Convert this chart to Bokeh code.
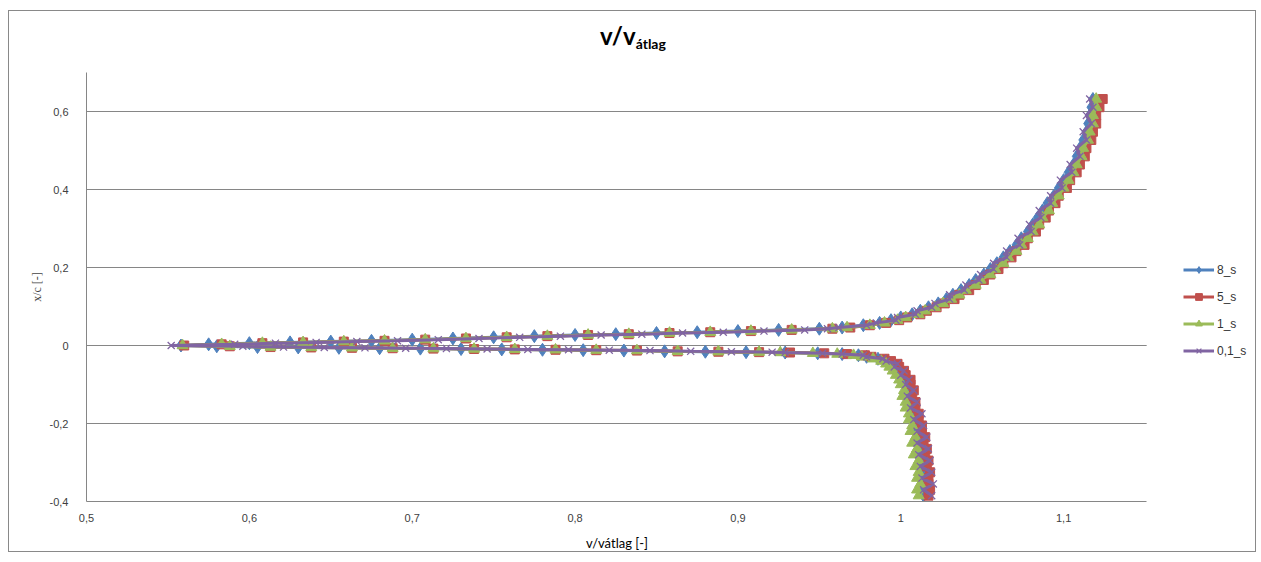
from bokeh.plotting import figure
from bokeh.layouts import column
from bokeh.models import Range1d, FixedTicker, Legend, LegendItem, Div
from bokeh.embed import file_html
from bokeh.resources import INLINE

# x/c sampling positions: lower branch (TE -> stagnation), stagnation, upper branch (stagnation -> TE)
x_c = [-0.385, -0.370, -0.355, -0.340, -0.325, -0.310, -0.295, -0.280, -0.265, -0.250,
       -0.235, -0.220, -0.205, -0.190, -0.175, -0.160, -0.145, -0.130, -0.115, -0.100,
       -0.088, -0.076, -0.065, -0.055, -0.047, -0.040, -0.034, -0.029, -0.025, -0.022,
       -0.020, -0.018, -0.017, -0.016, -0.015, -0.013, -0.012, -0.011, -0.010, -0.009,
       -0.008, -0.007, -0.006, -0.005, -0.004, -0.002,
       0.0,
       0.003, 0.006, 0.008, 0.010, 0.012, 0.015, 0.018, 0.021, 0.024, 0.027,
       0.029, 0.032, 0.034, 0.037, 0.040, 0.043,
       0.046, 0.052, 0.058, 0.065, 0.072, 0.080, 0.089, 0.098, 0.108, 0.119,
       0.130, 0.142, 0.155, 0.168, 0.182, 0.196, 0.211, 0.226, 0.242, 0.258,
       0.275, 0.292, 0.310, 0.328, 0.346, 0.365, 0.384, 0.404, 0.424, 0.444,
       0.464, 0.485, 0.506, 0.527, 0.548, 0.569, 0.590, 0.611, 0.632]

v_8s = [1.014, 1.014, 1.014, 1.014, 1.014, 1.013, 1.013, 1.012, 1.012, 1.011,
        1.011, 1.010, 1.009, 1.008, 1.007, 1.006, 1.005, 1.004, 1.004, 1.003,
        1.002, 1.000, 0.998, 0.996, 0.994, 0.991, 0.986, 0.979, 0.974, 0.964,
        0.949, 0.929, 0.905, 0.880, 0.855, 0.830, 0.805, 0.780, 0.755, 0.730,
        0.705, 0.680, 0.655, 0.630, 0.605, 0.580,
        0.558,
        0.575, 0.600, 0.625, 0.650, 0.675, 0.700, 0.725, 0.750, 0.775, 0.800,
        0.825, 0.850, 0.875, 0.900, 0.925, 0.950,
        0.964, 0.977, 0.987, 0.994, 1.000, 1.007, 1.012, 1.017, 1.023, 1.028,
        1.032, 1.037, 1.042, 1.046, 1.051, 1.055, 1.059, 1.063, 1.067, 1.071,
        1.074, 1.078, 1.081, 1.084, 1.087, 1.090, 1.094, 1.097, 1.100, 1.103,
        1.106, 1.108, 1.110, 1.112, 1.114, 1.115, 1.116, 1.117, 1.118]

v_5s = [1.017, 1.018, 1.017, 1.017, 1.018, 1.016, 1.017, 1.015, 1.016, 1.014,
        1.015, 1.013, 1.013, 1.011, 1.011, 1.009, 1.009, 1.007, 1.008, 1.006,
        1.006, 1.003, 1.002, 0.999, 0.998, 0.994, 0.990, 0.982, 0.978, 0.967,
        0.953, 0.932, 0.913, 0.888, 0.863, 0.838, 0.813, 0.788, 0.763, 0.738,
        0.713, 0.688, 0.663, 0.638, 0.613, 0.588,
        0.560,
        0.583, 0.608, 0.633, 0.658, 0.683, 0.708, 0.733, 0.758, 0.783, 0.808,
        0.833, 0.858, 0.883, 0.908, 0.933, 0.958,
        0.969, 0.981, 0.991, 0.999, 1.004, 1.012, 1.016, 1.022, 1.027, 1.033,
        1.036, 1.042, 1.046, 1.051, 1.055, 1.060, 1.063, 1.068, 1.071, 1.076,
        1.078, 1.083, 1.085, 1.089, 1.091, 1.095, 1.097, 1.102, 1.104, 1.108,
        1.110, 1.113, 1.114, 1.117, 1.118, 1.120, 1.120, 1.122, 1.124]

v_1s = [1.011, 1.010, 1.012, 1.010, 1.011, 1.009, 1.011, 1.008, 1.010, 1.007,
        1.009, 1.006, 1.007, 1.005, 1.005, 1.003, 1.003, 1.001, 1.002, 1.000,
        0.999, 0.997, 0.995, 0.993, 0.991, 0.988, 0.983, 0.976, 0.971, 0.961,
        0.946, 0.926, 0.913, 0.888, 0.863, 0.838, 0.813, 0.788, 0.763, 0.738,
        0.713, 0.688, 0.663, 0.638, 0.613, 0.588,
        0.559,
        0.583, 0.608, 0.633, 0.658, 0.683, 0.708, 0.733, 0.758, 0.783, 0.808,
        0.833, 0.858, 0.883, 0.908, 0.933, 0.958,
        0.967, 0.981, 0.990, 0.998, 1.003, 1.011, 1.015, 1.021, 1.026, 1.031,
        1.036, 1.040, 1.046, 1.049, 1.055, 1.058, 1.063, 1.066, 1.071, 1.074,
        1.078, 1.081, 1.085, 1.087, 1.091, 1.093, 1.097, 1.100, 1.103, 1.106,
        1.108, 1.111, 1.112, 1.115, 1.116, 1.118, 1.118, 1.120, 1.120]

v_01s = [1.019, 1.014, 1.020, 1.013, 1.019, 1.012, 1.018, 1.011, 1.017, 1.010,
         1.016, 1.010, 1.014, 1.008, 1.013, 1.006, 1.010, 1.004, 1.008, 1.003,
         1.005, 1.000, 1.002, 0.996, 0.998, 0.991, 0.989, 0.979, 0.977, 0.964,
         0.952, 0.929, 0.921, 0.896, 0.871, 0.846, 0.821, 0.796, 0.771, 0.746,
         0.721, 0.696, 0.671, 0.646, 0.621, 0.596,
         0.552,
         0.591, 0.616, 0.641, 0.666, 0.691, 0.716, 0.741, 0.766, 0.791, 0.816,
         0.841, 0.866, 0.891, 0.916, 0.941, 0.955,
         0.962, 0.979, 0.985, 0.997, 0.998, 1.009, 1.010, 1.019, 1.021, 1.030,
         1.030, 1.039, 1.040, 1.048, 1.049, 1.057, 1.057, 1.065, 1.065, 1.073,
         1.072, 1.080, 1.079, 1.086, 1.085, 1.092, 1.092, 1.099, 1.098, 1.105,
         1.104, 1.110, 1.108, 1.114, 1.112, 1.117, 1.114, 1.118, 1.116]

series_names = ["8_s", "5_s", "1_s", "0,1_s"]
x_ticks = [0.5, 0.6, 0.7, 0.8, 0.9, 1.0, 1.1]
x_tick_labels = ["0,5", "0,6", "0,7", "0,8", "0,9", "1", "1,1"]
y_ticks = [-0.4, -0.2, 0.0, 0.2, 0.4, 0.6]
y_tick_labels = ["-0,4", "-0,2", "0", "0,2", "0,4", "0,6"]
grid_ticks = [-0.2, 0.0, 0.2, 0.4, 0.6]
x_min, x_max = 0.5, 1.151
y_min, y_max = -0.4, 0.7

vals = [v_8s, v_5s, v_1s, v_01s]
for vv in vals:
    assert len(vv) == len(x_c), (len(vv), len(x_c))

W = 1248
FRAME_L = 77          # frame left offset inside figure
PLOT_W = 1062         # visible plot-area width in px
frame_w = W - FRAME_L
x_view_end = x_min + (x_max - x_min) * frame_w / PLOT_W  # frame extends under the legend area

title_div = Div(
    text=('<div style="width:%dpx;text-align:center;font-family:Lato;font-weight:bold;'
          'font-size:24px;line-height:24px;padding-top:13px;color:#000;">'
          'v/v<span style="font-size:14px;position:relative;top:4px;">átlag</span></div>') % W,
    width=W, height=51, margin=0)

xlabel_center = FRAME_L + PLOT_W // 2
xlabel_div = Div(
    text=('<div style="width:%dpx;text-align:center;font-family:Lato;'
          'font-size:13px;line-height:13px;padding-top:7px;color:#000;">'
          'v/vátlag [-]</div>') % (2 * xlabel_center),
    width=W, height=23, margin=0)

p = figure(width=W, height=468, output_backend="svg", toolbar_location=None,
           x_range=Range1d(x_min, x_view_end), y_range=Range1d(y_min, y_max),
           min_border_left=FRAME_L, min_border_right=0, min_border_top=10, min_border_bottom=29,
           margin=0)
p.outline_line_color = None
p.background_fill_color = "white"
p.border_fill_color = "white"

p.xgrid.grid_line_color = None
p.ygrid.grid_line_color = None
# horizontal gridlines limited to the plot area (legend sits to their right)
p.segment(x0=[x_min] * len(grid_ticks), x1=[x_max] * len(grid_ticks),
          y0=grid_ticks, y1=grid_ticks, line_color="#868686", line_width=1, level="underlay")

p.xaxis.ticker = FixedTicker(ticks=x_ticks)
p.xaxis.major_label_overrides = {t: l for t, l in zip(x_ticks, x_tick_labels)}
p.xaxis.bounds = (x_min, x_max)
p.yaxis.ticker = FixedTicker(ticks=y_ticks)
p.yaxis.major_label_overrides = {t: l for t, l in zip(y_ticks, y_tick_labels)}

for ax in (p.xaxis, p.yaxis):
    ax.axis_line_color = "#868686"
    ax.major_tick_line_color = None
    ax.minor_tick_line_color = None
    ax.major_tick_out = 0
    ax.major_tick_in = 0
    ax.major_label_text_font = "Liberation Sans"
    ax.major_label_text_font_size = "11px"
    ax.major_label_text_color = "#404040"

p.xaxis.major_label_standoff = 12
p.yaxis.major_label_standoff = 18
p.yaxis.axis_label = "x/c [-]"
p.yaxis.axis_label_text_font = "Liberation Serif"
p.yaxis.axis_label_text_font_style = "normal"
p.yaxis.axis_label_text_font_size = "12px"
p.yaxis.axis_label_standoff = 3

colors = ["#4F81BD", "#C0504D", "#9BBB59", "#8064A2"]
markers = ["diamond", "square", "triangle", "x"]
sizes = [13, 9, 11, 10]

items = []
for name, vv, c, m, s in zip(series_names, vals, colors, markers, sizes):
    lr = p.line(vv, x_c, line_color=c, line_width=3)
    if m == "x":
        sr = p.scatter(vv, x_c, marker=m, size=s, line_color=c, line_width=1.3)
    else:
        sr = p.scatter(vv, x_c, marker=m, size=s, fill_color=c, line_color=c, line_width=1)
    items.append(LegendItem(label=name, renderers=[lr, sr]))

legend = Legend(items=items, location=(1097, 142), orientation="vertical",
                glyph_width=31, glyph_height=17, label_height=17, spacing=10,
                label_standoff=3, padding=0, margin=0,
                label_text_font="Liberation Sans", label_text_font_size="12px",
                label_text_color="#333333",
                border_line_color=None, background_fill_alpha=0)
p.add_layout(legend, "center")

layout = column(title_div, p, xlabel_div, width=W, height=542,
                margin=(10, 0, 0, 8),
                styles={"border": "1px solid #898989", "background-color": "white"})

open("out.html", "w").write(file_html(layout, INLINE))
